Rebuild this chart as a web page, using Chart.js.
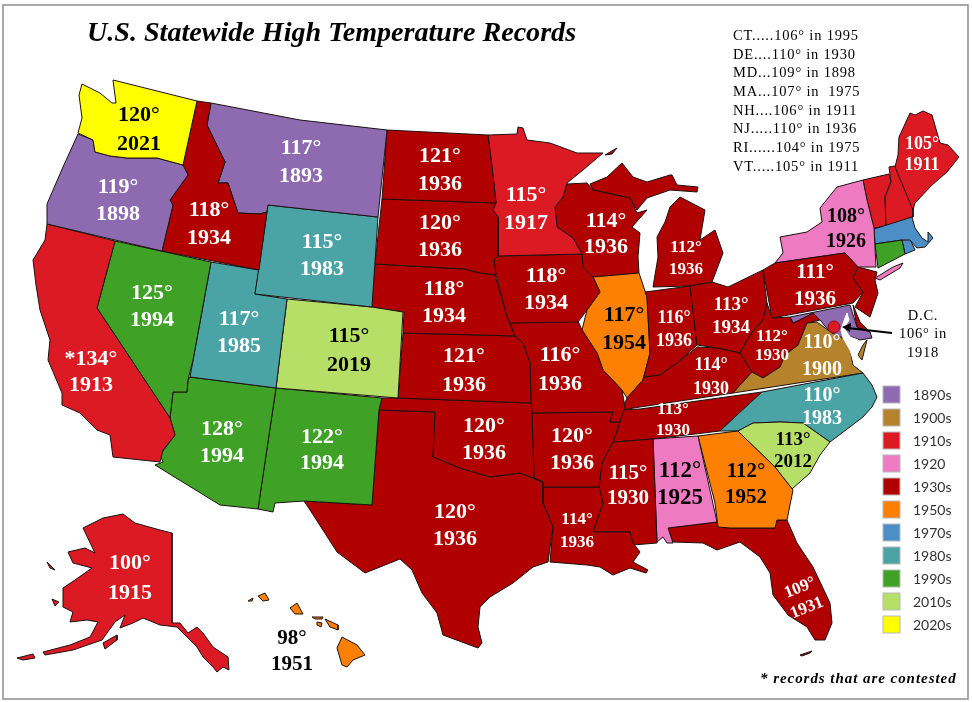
<!DOCTYPE html>
<html>
<head>
<meta charset="utf-8">
<title>U.S. Statewide High Temperature Records</title>
<script src="https://cdn.jsdelivr.net/npm/chart.js@4"></script>
<style>
  html, body { margin: 0; padding: 0; background: #fff; }
  canvas { display: block; }
</style>
</head>
<body>
<canvas id="myChart" width="972" height="702"></canvas>
<script>
// record per state
const stateCodes = ["WA","OR","CA","NV","ID","MT","WY","UT","CO","AZ","NM","AK","HI","ND","SD","NE","KS","OK","TX","MN","IA","MO","AR","LA","MS","AL","GA","SC","NC","VA","WV","KY","TN","OH","IN","IL","WI","MI","PA","NY","ME","FL","CT","DE","MD","MA","NH","NJ","RI","VT"];
const temps = [120,119,134,125,118,117,115,117,115,128,122,100,98,121,120,118,121,120,120,115,118,116,120,114,115,112,112,113,110,110,112,114,113,113,116,117,114,112,111,108,105,109,106,110,109,107,106,110,104,105];
const years = [2021,1898,1913,1994,1934,1893,1983,1985,2019,1994,1994,1915,1951,1936,1936,1934,1936,1936,1936,1917,1934,1936,1936,1936,1930,1925,1952,2012,1983,1900,1930,1930,1930,1934,1936,1954,1936,1936,1936,1926,1911,1931,1995,1930,1898,1975,1911,1936,1975,1911];
const contested = ["CA"];

const decades = ["1890s","1900s","1910s","1920","1930s","1950s","1970s","1980s","1990s","2010s","2020s"];
const decadeColors = ["#8e6bb1","#b5832c","#dc1a24","#ee7bc1","#b00000","#fe8002","#4c8fc6","#4aa4a6","#3fa125","#b5df66","#ffff00"];

const smallStateNotes = ["CT.....106° in 1995","DE....110° in 1930","MD...109° in 1898","MA...107° in  1975","NH....106° in 1911","NJ.....110° in 1936","RI......104° in 1975","VT.....105° in 1911"];
const dcNote = ["D.C.","106° in","1918"];

// state outlines in its own x/y units
const WA = [[113,80],[197,101],[183,165],[157,158],[127,158],[110,156],[95,152],[93,140],[78,133],[82,118],[79,95],[82,84],[100,93],[112,103],[116,103]];
const OR = [[78,134],[93,140],[95,152],[110,156],[127,158],[157,158],[183,165],[188,175],[170,200],[173,205],[162,251],[47,224],[47,204],[63,167]];
const CA = [[47,224],[115,241],[97,308],[170,418],[175,435],[163,450],[160,462],[113,457],[110,435],[97,430],[80,413],[62,405],[62,393],[48,360],[50,340],[40,310],[36,285],[33,260],[45,240]];
const NV = [[115,241],[211,262],[193,360],[188,380],[187,392],[173,392],[170,418],[97,308]];
const ID = [[197,101],[211,103],[207,125],[225,162],[218,183],[228,183],[238,213],[260,214],[267,212],[259,270],[162,251],[173,205],[170,200],[188,175],[183,165]];
const MT = [[211,103],[300,120],[387,130],[378,217],[268,205],[267,212],[260,214],[238,213],[228,183],[218,183],[225,162],[207,125]];
const WY = [[268,205],[378,217],[372,307],[255,294]];
const UT = [[211,262],[259,270],[255,294],[287,299],[276,388],[190,377]];
const CO = [[287,299],[372,307],[403,312],[398,398],[276,388]];
const AZ = [[190,377],[276,388],[258,509],[220,505],[155,465],[163,462],[160,455],[175,435],[170,418],[173,392],[187,392],[188,380]];
const NM = [[276,388],[382,398],[379,410],[372,505],[304,501],[275,503],[273,512],[258,509]];
const TX = [[304,501],[372,505],[379,410],[435,412],[433,457],[460,468],[490,477],[520,473],[543,482],[543,503],[553,527],[548,562],[533,567],[513,583],[490,597],[480,607],[478,627],[482,643],[478,648],[443,635],[437,613],[422,593],[412,570],[400,559],[365,573],[337,552],[310,510]];
const OK = [[382,398],[398,398],[531,403],[532,413],[534,478],[543,482],[520,473],[490,477],[460,468],[433,457],[435,412],[379,410]];
const KS = [[403,333],[515,336],[523,343],[530,363],[531,403],[398,398]];
const NE = [[375,264],[465,269],[480,273],[495,275],[507,317],[515,336],[403,333],[404,312],[370,307]];
const SD = [[382,199],[496,203],[493,210],[498,217],[498,256],[494,260],[496,275],[480,273],[465,269],[375,264]];
const ND = [[387,130],[488,135],[492,167],[496,203],[382,199]];
const MN = [[488,135],[517,134],[518,127],[523,128],[527,140],[550,143],[577,153],[603,153],[583,170],[567,183],[563,197],[555,207],[557,227],[573,238],[582,254],[498,256],[498,217],[493,210],[496,203],[492,167]];
const WI = [[567,184],[587,183],[593,190],[630,198],[637,213],[647,210],[632,227],[640,233],[638,257],[639,273],[593,277],[583,267],[582,254],[573,238],[557,227],[555,207],[563,197]];
const MI_UPPER = [[590,184],[607,177],[622,163],[633,177],[647,182],[670,175],[672,175],[677,185],[698,187],[697,192],[670,190],[647,198],[637,210],[630,198],[593,190]];
const MI_LOWER = [[653,287],[690,286],[712,282],[723,253],[715,230],[700,240],[705,210],[680,197],[670,207],[665,222],[657,237],[658,257]];
const MI_ROYALE = [[605,155],[617,148],[612,154]];
const IL = [[593,277],[639,273],[647,297],[650,353],[643,380],[627,398],[622,390],[603,370],[597,353],[582,330],[587,310],[600,292]];
const IN = [[645,292],[690,286],[697,345],[677,363],[660,375],[645,377],[643,380],[650,353],[647,297]];
const IA = [[498,256],[582,254],[583,267],[593,277],[600,292],[587,310],[578,322],[510,323],[507,317],[496,275],[494,260]];
const MO = [[510,323],[578,321],[582,330],[597,353],[603,370],[622,390],[625,407],[620,422],[610,422],[613,412],[532,413],[531,403],[530,363],[523,343],[515,336]];
const AR = [[532,413],[613,412],[610,422],[620,422],[613,442],[602,463],[599,487],[543,487],[543,482],[534,478]];
const LA = [[543,487],[599,487],[603,503],[593,532],[630,532],[633,543],[640,552],[633,562],[648,570],[646,573],[630,568],[613,575],[600,567],[587,565],[550,562],[553,527],[543,503]];
const MS = [[613,442],[653,439],[657,543],[633,545],[630,532],[593,532],[603,503],[599,487],[602,463]];
const AL = [[653,439],[698,436],[717,522],[668,528],[673,543],[667,543],[663,537],[657,542]];
const GA = [[698,436],[738,431],[747,440],[775,467],[793,490],[787,520],[777,520],[775,528],[730,528],[718,527],[715,503]];
const SC = [[738,431],[753,423],[780,422],[803,423],[830,442],[820,455],[810,473],[792,489],[775,467],[747,440]];
const NC = [[720,431],[737,415],[762,392],[863,373],[872,385],[877,397],[872,407],[863,417],[830,442],[803,423],[780,422],[753,423],[738,431]];
const TN = [[640,409],[762,392],[737,415],[720,431],[653,439],[613,442],[620,422],[622,410]];
const KY = [[645,377],[660,375],[677,363],[697,347],[717,348],[740,353],[752,372],[733,393],[640,407],[622,410],[627,398],[643,380]];
const OH = [[690,286],[712,282],[728,287],[763,270],[767,303],[763,320],[750,335],[740,353],[717,348],[697,345]];
const PA = [[763,270],[775,263],[845,253],[858,267],[853,278],[863,292],[853,303],[772,318]];
const WV = [[767,303],[772,318],[790,317],[793,323],[800,320],[813,313],[820,320],[807,323],[798,345],[785,355],[780,367],[763,378],[752,372],[740,353],[750,335],[763,320]];
const VA = [[817,322],[832,333],[843,338],[850,348],[853,365],[863,373],[733,393],[752,372],[763,378],[780,367],[785,355],[798,345],[807,323]];
const VA_SHORE = [[867,340],[862,360],[858,355],[863,345]];
const MD = [[790,317],[850,305],[857,327],[870,332],[872,338],[860,340],[852,337],[840,338],[830,332],[820,320],[813,313],[800,320],[793,323]];
const DE = [[853,305],[860,322],[870,332],[857,327]];
const NJ = [[858,267],[877,272],[875,280],[878,293],[870,317],[855,307],[863,292],[853,278]];
const NY = [[775,263],[783,253],[780,237],[807,232],[822,222],[820,208],[837,187],[863,180],[867,200],[874,228],[876,267],[858,267],[845,253]];
const NY_LONG = [[875,278],[893,267],[903,263],[900,268],[880,280]];
const VT = [[863,180],[889,174],[891,182],[885,197],[886,226],[874,228],[867,200]];
const NH = [[889,167],[895,166],[913,208],[913,217],[886,226],[885,197],[891,182]];
const ME = [[895,167],[898,155],[899,137],[910,113],[915,115],[923,111],[932,115],[940,143],[948,145],[959,157],[947,172],[932,185],[915,203],[913,210]];
const MA = [[874,229],[912,217],[915,228],[922,238],[928,242],[928,232],[933,238],[925,247],[917,248],[910,240],[902,240],[875,244]];
const CT = [[875,244],[902,240],[905,254],[878,268]];
const RI = [[902,240],[910,239],[915,250],[905,254]];
const FL = [[668,528],[717,522],[730,528],[775,528],[777,520],[787,520],[797,543],[813,567],[830,603],[832,623],[825,640],[815,640],[807,627],[788,615],[773,595],[770,573],[760,557],[740,542],[717,550],[703,543],[673,542]];
const FL_KEYS = [[800,655],[812,651],[810,653],[802,656]];
const AK = [[83,528],[103,518],[123,514],[135,523],[160,530],[172,533],[172,623],[180,623],[188,633],[197,627],[203,633],[213,647],[228,657],[229,670],[223,667],[217,672],[213,667],[203,657],[197,647],[190,640],[177,627],[160,625],[143,618],[133,623],[120,628],[125,615],[115,622],[102,640],[73,650],[45,655],[43,652],[70,645],[90,637],[98,622],[87,620],[70,622],[73,612],[63,607],[63,588],[75,580],[92,568],[73,563],[68,552],[85,548],[95,553]];
const AK_KODIAK = [[103,643],[117,635],[117,640],[105,649]];
const AK_ALEUT = [[17,658],[33,654],[35,658],[23,660]];
const AK_NUNIVAK = [[52,599],[59,602],[55,606]];
const AK_LAWRENCE = [[47,562],[55,570],[50,568]];
const HI_BIG = [[342,637],[357,645],[365,655],[353,660],[347,667],[342,665],[337,648]];
const HI_MAUI = [[325,619],[338,625],[338,630],[330,627]];
const HI_OAHU = [[290,608],[297,603],[303,614],[295,614]];
const HI_KAUAI = [[258,596],[265,593],[269,600],[263,601]];
const HI_NIIHAU = [[248,601],[253,598],[252,601]];
const HI_MOLOKAI = [[312,617],[323,617],[322,619],[315,619]];
const HI_LANAI = [[317,622],[322,623],[321,627],[317,625]];
const CHESAPEAKE = [[847,313],[849,320],[844,328],[850,337],[858,340],[860,345],[857,355],[860,362],[855,366],[850,350],[843,338],[841,330],[845,318]];
const DC = [[834,327]];

const outlines = {
  WA:[WA],OR:[OR],CA:[CA],NV:[NV],ID:[ID],MT:[MT],WY:[WY],UT:[UT],CO:[CO],AZ:[AZ],NM:[NM],
  AK:[AK,AK_KODIAK,AK_ALEUT,AK_NUNIVAK,AK_LAWRENCE],
  HI:[HI_BIG,HI_MAUI,HI_OAHU,HI_KAUAI,HI_NIIHAU,HI_MOLOKAI,HI_LANAI],
  ND:[ND],SD:[SD],NE:[NE],KS:[KS],OK:[OK],TX:[TX],MN:[MN],IA:[IA],MO:[MO],AR:[AR],LA:[LA],MS:[MS],AL:[AL],GA:[GA],SC:[SC],NC:[NC],
  VA:[VA,VA_SHORE],WV:[WV],KY:[KY],TN:[TN],OH:[OH],IN:[IN],IL:[IL],WI:[WI],MI:[MI_UPPER,MI_LOWER,MI_ROYALE],PA:[PA],NY:[NY,NY_LONG],ME:[ME],
  FL:[FL,FL_KEYS],CT:[CT],DE:[DE],MD:[MD],MA:[MA],NH:[NH],NJ:[NJ],RI:[RI],VT:[VT]
};

// where each state's two label lines go: x, y of temp, y of year, font size, colour
const labelPlaces = {
  WA:[139,114,143,22,"#000"],OR:[118,186,213,22,"#fff"],CA:[91,358,384,22,"#fff"],NV:[152,292,319,22,"#fff"],
  ID:[209,209,237,22,"#fff"],MT:[301,147,175,22,"#fff"],WY:[322,241,268,22,"#fff"],UT:[239,318,345,22,"#fff"],
  CO:[349,335,364,22,"#000"],AZ:[222,428,455,22,"#fff"],NM:[322,436,462,22,"#fff"],AK:[130,562,592,22,"#fff"],
  HI:[292,638,664,21,"#000"],ND:[440,155,183,22,"#fff"],SD:[440,222,249,22,"#fff"],NE:[444,288,315,22,"#fff"],
  KS:[464,355,384,22,"#fff"],OK:[484,425,452,22,"#fff"],TX:[455,511,538,22,"#fff"],MN:[526,194,222,22,"#fff"],
  IA:[546,275,302,22,"#fff"],MO:[560,354,383,22,"#fff"],AR:[572,435,462,22,"#fff"],LA:[577,519,542,17,"#fff"],
  MS:[628,473,498,21,"#fff"],AL:[680,470,497,23,"#000"],GA:[746,471,497,21,"#000"],SC:[793,439,461,19,"#000"],
  NC:[822,395,418,20,"#fff"],VA:[822,342,369,20,"#fff"],WV:[772,336,355,17,"#fff"],KY:[711,364,388,18,"#fff"],
  TN:[673,409,430,17,"#fff"],OH:[731,304,327,19,"#fff"],IN:[674,317,340,18,"#fff"],IL:[624,314,342,22,"#000"],
  WI:[606,220,246,22,"#fff"],MI:[686,247,269,17,"#fff"],PA:[815,272,299,21,"#fff"],NY:[846,216,241,20,"#000"],
  ME:[922,143,164,18,"#fff"]
};
const tiltedLabels = { FL:[800,588,807,608,17,"#fff",-0.38] };

function decadeIndex(year) {
  if (year >= 1920 && year < 1930) return decades.indexOf("1920");
  return decades.indexOf(Math.floor(year / 10) * 10 + "s");
}

const datasets = [];
function addShape(points, fillColor, borderColor) {
  datasets.push({
    data: points.concat([points[0]]),
    showLine: true,
    fill: "shape",
    backgroundColor: fillColor,
    borderColor: borderColor,
    borderWidth: 1,
    tension: 0,
    pointRadius: 0,
    clip: false
  });
}

// first dataset is drawn last
datasets.push({
  data: DC,
  pointRadius: 6,
  pointBackgroundColor: "#dc1a24",
  pointBorderColor: "#8a1015",
  pointBorderWidth: 1,
  clip: false
});
addShape(CHESAPEAKE, "#ffffff", "#ffffff");
stateCodes.forEach(function (code, i) {
  const color = decadeColors[decadeIndex(years[i])];
  outlines[code].forEach(function (part) {
    addShape(part, color, "#1c1010");
  });
});

const mapText = {
  id: "mapText",
  afterDatasetsDraw: function (chart) {
    const c = chart.ctx;
    const sx = chart.scales.x;
    const sy = chart.scales.y;
    function put(text, x, y) {
      // 1px down, "middle" sits a bit high for digits
      c.fillText(text, sx.getPixelForValue(x), sy.getPixelForValue(y) + 1);
    }
    c.save();
    c.textBaseline = "middle";

    // frame
    c.strokeStyle = "#8c8c8c";
    c.lineWidth = 1.5;
    c.strokeRect(3, 5, 965, 694);

    // title
    c.fillStyle = "#000";
    c.textAlign = "left";
    c.font = "italic bold 28.1px 'Liberation Serif'";
    put("U.S. Statewide High Temperature Records", 87, 33);

    // small states list
    c.font = "14.5px 'Liberation Serif'";
    c.letterSpacing = "0.8px";
    smallStateNotes.forEach(function (line, i) {
      put(line, 733, 35 + i * 18.7);
    });

    // D.C. note
    c.textAlign = "center";
    dcNote.forEach(function (line, i) {
      put(line, 923, 315 + i * 18.5);
    });
    c.letterSpacing = "0px";

    // D.C. arrow
    c.strokeStyle = "#000";
    c.lineWidth = 2;
    c.beginPath();
    c.moveTo(sx.getPixelForValue(892), sy.getPixelForValue(333));
    c.lineTo(sx.getPixelForValue(848), sy.getPixelForValue(328));
    c.stroke();
    c.beginPath();
    c.moveTo(sx.getPixelForValue(842), sy.getPixelForValue(327));
    c.lineTo(sx.getPixelForValue(851), sy.getPixelForValue(323));
    c.lineTo(sx.getPixelForValue(850), sy.getPixelForValue(332));
    c.closePath();
    c.fill();

    // state labels
    stateCodes.forEach(function (code, i) {
      const place = labelPlaces[code];
      if (!place) return;
      const star = contested.indexOf(code) >= 0 ? "*" : "";
      c.font = "bold " + place[3] + "px 'Liberation Serif'";
      c.fillStyle = place[4];
      put(star + temps[i] + "°", place[0], place[1]);
      put(String(years[i]), place[0], place[2]);
    });
    Object.keys(tiltedLabels).forEach(function (code) {
      const t = tiltedLabels[code];
      const i = stateCodes.indexOf(code);
      c.font = "bold " + t[4] + "px 'Liberation Serif'";
      c.fillStyle = t[5];
      [[temps[i] + "°", t[0], t[1]], [String(years[i]), t[2], t[3]]].forEach(function (row) {
        c.save();
        c.translate(sx.getPixelForValue(row[1]), sy.getPixelForValue(row[2]));
        c.rotate(t[6]);
        c.fillText(row[0], 0, 0);
        c.restore();
      });
    });

    // decade legend
    c.textAlign = "left";
    c.font = "14px Lato";
    decades.forEach(function (name, i) {
      const top = 386 + i * 23;
      c.fillStyle = decadeColors[i];
      c.fillRect(883, top, 17, 17);
      c.strokeStyle = "#b8b8b8";
      c.lineWidth = 1;
      c.strokeRect(883, top, 17, 17);
      c.fillStyle = "#333";
      put(name, 913, top + 8);
    });

    // footnote
    c.fillStyle = "#000";
    c.font = "italic bold 15px 'Liberation Serif'";
    c.letterSpacing = "0.95px";
    put("* records that are contested", 760, 678);
    c.letterSpacing = "0px";
    c.restore();
  }
};

new Chart(document.getElementById("myChart").getContext("2d"), {
  type: "scatter",
  data: { datasets: datasets },
  options: {
    responsive: false,
    animation: false,
    layout: { padding: 0, autoPadding: false },
    plugins: { legend: { display: false }, tooltip: { enabled: false } },
    scales: {
      x: { type: "linear", min: 0, max: 972, display: false },
      y: { type: "linear", min: 0, max: 702, reverse: true, display: false }
    }
  },
  plugins: [mapText]
});
</script>
</body>
</html>
